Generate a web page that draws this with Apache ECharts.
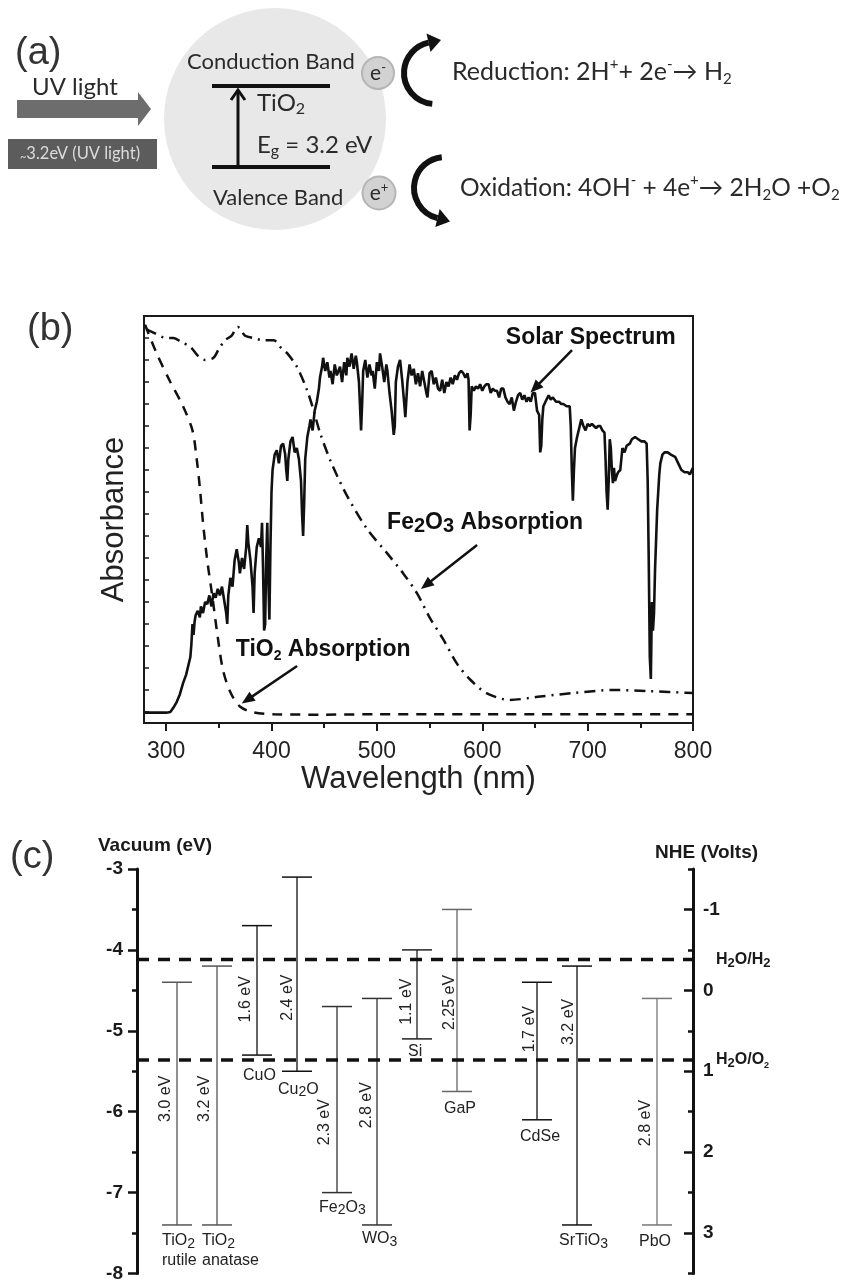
<!DOCTYPE html>
<html><head><meta charset="utf-8">
<script src="https://cdn.jsdelivr.net/npm/echarts@6/dist/echarts.min.js"></script>
<style>html,body{margin:0;padding:0;background:#fff}#c{width:843px;height:1283px}</style>
</head><body><div id="c"></div>
<script>
// ================= DATA =================
// Panel (b): wavelength (nm) vs absorbance (a.u.)
const solarSpectrum = [
[280,0.47],[290,0.47],[300,0.47],[304,0.5],[307,0.7],[310,0.95],[313,1.3],[316,1.8],[319,2.2],[321,2.6],[323,3.0],[324,3.6],[325,4.5],[326,4.0],[327,4.6],[328,4.9],[330,5.1],[332,4.8],[333,5.3],[335,5.0],[337,5.5],[339,5.4],[341,5.8],[343,5.3],[345,5.9],[347,5.7],[349,6.1],[351,5.8],[353,6.2],[355,5.6],[357,5.0],[358,4.5],[359,5.8],[361,6.6],[363,6.2],[365,7.4],[367,7.9],[369,7.3],[370,6.8],[372,7.5],[374,7.0],[376,8.0],[377,9.0],[378,8.2],[380,7.4],[382,6.2],[383,5.0],[384,6.8],[386,8.0],[388,8.4],[390,8.0],[391,9.1],[392,7.0],[393,4.2],[394,4.5],[395,7.5],[396,9.1],[397,6.5],[398,4.7],[399,8.0],[400,10.5],[401,11.5],[403,12.2],[405,12.4],[407,11.8],[409,12.6],[411,12.7],[413,12.2],[414,11.5],[415,11.0],[416,12.0],[418,12.8],[420,13.0],[422,12.3],[424,12.5],[426,12.0],[428,11.0],[429,9.5],[430,8.5],[431,10.0],[432,12.0],[434,13.0],[436,13.5],[437,13.8],[439,13.3],[441,14.2],[443,14.6],[445,15.2],[446,15.7],[448,16.2],[449,16.6],[451,16.0],[453,16.4],[455,15.7],[456,16.0],[458,15.4],[460,16.3],[462,15.8],[465,16.2],[467,15.5],[469,16.4],[471,15.8],[472,16.6],[474,16.2],[476,16.8],[478,16.1],[480,16.7],[481,16.4],[483,15.5],[485,13.3],[486,14.5],[487,16.0],[489,16.5],[491,15.7],[493,16.3],[495,15.8],[496,16.0],[498,15.2],[500,16.4],[502,16.0],[503,16.8],[505,16.2],[507,15.5],[509,16.3],[510,16.0],[512,15.0],[514,14.2],[516,13.1],[517,13.5],[518,15.5],[520,16.2],[522,16.5],[524,15.6],[526,14.5],[527,13.9],[529,15.5],[531,16.3],[533,15.8],[535,16.1],[537,15.4],[539,15.9],[541,15.3],[543,16.0],[545,15.5],[547,15.0],[548,14.8],[550,15.9],[552,16.0],[554,15.4],[556,15.7],[558,15.2],[560,15.1],[562,15.6],[564,15.0],[566,15.5],[568,15.3],[570,15.7],[572,15.4],[574,15.8],[576,15.6],[578,15.9],[580,16.0],[582,15.9],[584,15.7],[586,15.9],[587,15.6],[588,13.3],[589,14.0],[590,15.3],[592,15.1],[594,15.3],[596,15.2],[598,15.4],[600,15.1],[602,15.3],[604,15.4],[606,15.4],[608,15.0],[610,15.2],[612,15.1],[614,15.1],[616,14.8],[618,15.2],[620,15.2],[622,14.8],[624,14.6],[626,14.5],[628,14.8],[630,14.2],[632,14.6],[634,14.9],[636,15.0],[638,14.7],[640,14.9],[642,14.6],[644,14.8],[646,14.6],[648,15.0],[650,15.0],[651,14.6],[652,14.2],[654,14.0],[655,12.3],[656,12.6],[657,13.8],[658,14.4],[660,14.6],[663,14.9],[665,14.7],[667,14.8],[670,14.6],[673,14.6],[675,14.5],[677,14.5],[680,14.4],[683,14.4],[684,13.5],[685,11.5],[686,10.1],[687,11.5],[688,12.5],[690,13.0],[692,13.4],[694,13.8],[696,13.5],[698,13.3],[700,13.6],[702,13.5],[704,13.6],[706,13.5],[708,13.4],[710,13.5],[712,13.5],[714,13.3],[716,13.2],[717,12.0],[718,10.5],[719,9.7],[720,11.0],[721,12.9],[722,12.5],[723,11.5],[724,10.9],[725,11.6],[726,11.0],[728,11.3],[729,11.4],[731,11.5],[732,12.0],[733,12.5],[735,12.3],[737,12.6],[740,12.7],[742,12.9],[745,13.0],[748,12.9],[751,12.8],[754,12.8],[756,12.7],[757,11.0],[758,7.4],[759,3.0],[760,2.0],[761,5.5],[762,4.2],[763,5.0],[764,7.0],[766,9.7],[768,11.3],[769,11.8],[771,12.2],[773,12.3],[776,12.3],[779,12.2],[783,12.1],[786,11.8],[789,11.5],[792,11.4],[795,11.4],[797,11.3],[800,11.6]
];
const tio2Absorption = [
[280,18.1],[291,16.8],[304,15.5],[316,14.4],[325,13.3],[329,12.0],[332,10.7],[335,9.1],[339,7.4],[344,5.7],[349,3.9],[354,2.4],[361,1.4],[370,0.75],[383,0.48],[402,0.4],[450,0.38],[500,0.4],[550,0.4],[600,0.4],[650,0.4],[700,0.4],[750,0.4],[800,0.4]
];
const fe2o3Absorption = [
[281,17.9],[290,17.7],[300,17.5],[307,17.5],[315,17.3],[323,17.1],[330,16.7],[337,16.5],[345,16.6],[350,17.0],[356,17.4],[362,17.6],[368,18.0],[375,17.6],[383,17.5],[392,17.4],[402,17.4],[410,17.0],[415,16.8],[424,16.2],[434,15.1],[440,14.2],[446,13.2],[457,11.8],[472,10.3],[491,8.8],[510,7.7],[525,6.8],[538,5.9],[550,4.8],[563,3.8],[576,2.7],[588,2.0],[604,1.36],[626,1.05],[655,1.2],[686,1.36],[724,1.5],[759,1.45],[800,1.36]
];
const wavelengthTicks = [300,400,500,600,700,800];
const wavelengthMinorTicks = [350,450,550,650,750];
const absorbanceTicks = [0.5,1.5,2.5,3.5,4.5,5.5,6.5,7.5,8.5,9.5,10.5,11.5,12.5,13.5,14.5,15.5,16.5,17.5];
const annotationTexts = ['Solar Spectrum','Fe{s3|2}O{s3|3} Absorption','TiO{s2|2} Absorption'];
const annotationAt = [[703,17.5],[602.7,9.09],[449,3.32]];
const annotationArrows = [[[685.2,16.95],[650.1,15.23]],[[595.1,8.09],[546.7,6.27]],[[424.3,2.59],[376.9,1.05]]];

// Panel (c): band edges vs vacuum (eV)
const materials = ['TiO{s|2}\nrutile','TiO{s|2}\nanatase','CuO','Cu{s|2}O','Fe{s|2}O{s|3}','WO{s|3}','Si','GaP','CdSe','SrTiO{s|3}','PbO'];
const slotIndex = [0,1,2,3,4,5,6,7,9,10,12];
const conductionBand = [-4.4,-4.2,-3.7,-3.1,-4.7,-4.6,-4.0,-3.5,-4.4,-4.2,-4.6];
const valenceBand = [-7.4,-7.4,-5.3,-5.5,-7.0,-7.4,-5.1,-5.75,-6.1,-7.4,-7.4];
const bandGapLabels = ['3.0 eV','3.2 eV','1.6 eV','2.4 eV','2.3 eV','2.8 eV','1.1 eV','2.25 eV','1.7 eV','3.2 eV','2.8 eV'];
const redoxLevels = [-4.12,-5.36];
const redoxNames = ['H{s|2}O/H{s|2}','H{s|2}O/O{t|2}'];
const nheTicks = [-1,0,1,2,3];

// ================= LAYOUT / STYLE (not data) =================
const gapLabelAt = [-5.84,-5.84,-4.61,-4.59,-6.13,-5.92,-4.64,-4.65,-4.98,-4.89,-6.14];
const gapLabelDx = [-11,-12,-11,-9,-12,-10,-10,-7,-7,-8,-11];
const nameDx = [0,0,1,-4,-3,0,6,2,-2,-3,-3];
const nameDy = [6,6,11,8,5,4,3,7,7,6,7];
const barColor = ['#555','#555','#111','#111','#333','#333','#222','#666','#111','#111','#777'];

const FF = '"Liberation Sans", Arial, sans-serif';
const CF = 'Lato, "Open Sans", sans-serif';
const chart = echarts.init(document.getElementById('c'), null, {renderer:'canvas'});

function txt(x, y, text, o) {
  o = o || {};
  return {type:'text', x:x, y:y, silent:true, z:10,
    style:{text:text, fill:o.fill||'#2a2a2a', fontFamily:o.ff||CF, fontSize:o.fs||23,
      fontWeight:o.fw||'normal', align:o.align||'left', textAlign:o.align||'left',
      verticalAlign:'middle', textVerticalAlign:'middle', lineHeight:o.lh||(o.fs||23)+4,
      rich:o.rich||{}}};
}
const sub = (fs, lh) => ({fontSize:fs, lineHeight:lh, verticalAlign:'bottom', fontFamily:CF, fill:'#2a2a2a'});
const sup = (fs, lh) => ({fontSize:fs, lineHeight:lh, verticalAlign:'top', fontFamily:CF, fill:'#2a2a2a'});

const graphics = [
  // (a) schematic
  {type:'circle', shape:{cx:275, cy:119, r:111}, style:{fill:'#e8e8e8'}, silent:true, z:1},
  {type:'polygon', shape:{points:[[17,100],[138,100],[138,92],[151,109],[138,126],[138,118],[17,118]]}, style:{fill:'#6d6d6d'}, silent:true},
  {type:'rect', shape:{x:8, y:139, width:149, height:30}, style:{fill:'#5c5c5c'}, silent:true},
  txt(80, 154, '{t|~}3.2eV (UV light)', {fs:16.5, fill:'#dcdcdc', align:'center', lh:18, rich:{t:{fontSize:11, lineHeight:10, verticalAlign:'bottom', fill:'#dcdcdc', fontFamily:CF}}}),
  txt(15, 54, '(a)', {ff:FF, fs:38, fill:'#333'}),
  txt(32, 87, 'UV light', {fs:24}),
  txt(187, 62, 'Conduction Band', {fs:22}),
  txt(213, 198, 'Valence Band', {fs:22}),
  {type:'line', shape:{x1:212, y1:86, x2:330, y2:86}, style:{stroke:'#111', lineWidth:4}, silent:true, z:5},
  {type:'line', shape:{x1:212, y1:167, x2:330, y2:167}, style:{stroke:'#111', lineWidth:4}, silent:true, z:5},
  {type:'line', shape:{x1:238, y1:167, x2:238, y2:91}, style:{stroke:'#111', lineWidth:3}, silent:true, z:5},
  {type:'polyline', shape:{points:[[231,100],[238,90],[245,100]]}, style:{stroke:'#111', lineWidth:3, fill:null}, silent:true, z:5},
  txt(257, 103, 'TiO{s|2}', {fs:24, lh:28, rich:{s:sub(16,14)}}),
  txt(257, 145, 'E{s|g} = 3.2 eV', {fs:24, lh:28, rich:{s:sub(16,14)}}),
  {type:'circle', shape:{cx:378, cy:73, r:16}, style:{fill:'#d2d2d2', stroke:'#b5b5b5', lineWidth:2}, silent:true, z:5},
  {type:'circle', shape:{cx:379, cy:193, r:16.5}, style:{fill:'#d2d2d2', stroke:'#b5b5b5', lineWidth:2}, silent:true, z:5},
  txt(378, 73, 'e{p|-}', {fs:21, align:'center', lh:24, rich:{p:sup(13,12)}}),
  txt(379, 193, 'e{p|+}', {fs:21, align:'center', lh:24, rich:{p:sup(13,12)}}),
  {type:'arc', shape:{cx:435, cy:73, r:31, startAngle:1.658, endAngle:4.503, clockwise:true}, style:{stroke:'#111', lineWidth:6, fill:null}, silent:true},
  {type:'polygon', shape:{points:[[426.5,33.5],[441,40],[430.5,52]]}, style:{fill:'#111'}, silent:true},
  {type:'arc', shape:{cx:445, cy:188, r:31, startAngle:1.815, endAngle:4.608, clockwise:true}, style:{stroke:'#111', lineWidth:6, fill:null}, silent:true},
  {type:'polygon', shape:{points:[[435.3,227],[450,221.5],[439.7,209]]}, style:{fill:'#111'}, silent:true},
  txt(452, 72, 'Reduction: 2H{p|+}+ 2e{p|-}→ H{s|2}', {fs:25, lh:30, rich:{p:sup(15,12), s:sub(15,12)}}),
  txt(460, 188, 'Oxidation: 4OH{p|-} + 4e{p|+}→ 2H{s|2}O +O{s|2}', {fs:24.5, lh:30, rich:{p:sup(15,12), s:sub(15,12)}}),
  // panel labels & axis titles
  txt(27, 330, '(b)', {ff:FF, fs:38, fill:'#333'}),
  txt(10, 858, '(c)', {ff:FF, fs:38, fill:'#333'}),
  txt(98, 846, 'Vacuum (eV)', {ff:FF, fs:19, fw:'bold', fill:'#1a1a1a'}),
  txt(655, 853, 'NHE (Volts)', {ff:FF, fs:19, fw:'bold', fill:'#1a1a1a'})
];

function renderBand(params, api) {
  const i = params.dataIndex;
  const x = api.value(0), top = api.value(1), bot = api.value(2);
  const pt = api.coord([x, top]), pb = api.coord([x, bot]);
  const hw = 15, c = barColor[i];
  const gy = api.coord([x, gapLabelAt[i]])[1];
  const subS = {fontSize:14, lineHeight:12, verticalAlign:'bottom', fill:'#222', fontFamily:FF};
  return {type:'group', children:[
    {type:'line', shape:{x1:pt[0], y1:pt[1], x2:pb[0], y2:pb[1]}, style:{stroke:c, lineWidth:1.3}},
    {type:'line', shape:{x1:pt[0]-hw, y1:pt[1], x2:pt[0]+hw, y2:pt[1]}, style:{stroke:c, lineWidth:1.5}},
    {type:'line', shape:{x1:pb[0]-hw, y1:pb[1], x2:pb[0]+hw, y2:pb[1]}, style:{stroke:c, lineWidth:1.5}},
    {type:'text', x:pt[0]+gapLabelDx[i], y:gy, rotation:Math.PI/2,
      style:{text:bandGapLabels[i], fill:'#222', fontFamily:FF, fontSize:16, align:'center', textAlign:'center', verticalAlign:'middle', textVerticalAlign:'middle'}},
    {type:'text', x:pb[0]-hw+nameDx[i], y:pb[1]+nameDy[i],
      style:{text:materials[i], fill:'#222', fontFamily:FF, fontSize:16, lineHeight:20, align:'left', textAlign:'left', verticalAlign:'top', textVerticalAlign:'top', rich:{s:subS}}}
  ]};
}

const option = {
  animation:false,
  textStyle:{fontFamily:FF},
  graphic:graphics,
  grid:[
    {left:144, top:316, width:549, height:407, show:true, borderColor:'#1a1a1a', borderWidth:2, backgroundColor:'transparent'},
    {left:137, top:869, width:556, height:412.5}
  ],
  xAxis:[
    {gridIndex:0, type:'value', min:279, max:800, position:'bottom',
     axisLine:{show:true, onZero:false, lineStyle:{color:'#1a1a1a', width:2}},
     axisTick:{show:true, length:8, customValues:wavelengthTicks, lineStyle:{color:'#1a1a1a', width:2}},
     axisLabel:{customValues:wavelengthTicks, fontSize:23, color:'#222', margin:17, fontFamily:FF},
     splitLine:{show:false},
     name:'Wavelength (nm)', nameLocation:'middle', nameGap:39, nameTextStyle:{fontSize:31, color:'#222', fontFamily:FF}},
    {gridIndex:0, type:'value', min:279, max:800, position:'bottom',
     axisLine:{show:false, onZero:false}, axisTick:{show:true, length:5, customValues:wavelengthMinorTicks, lineStyle:{color:'#1a1a1a', width:2}},
     axisLabel:{show:false}, splitLine:{show:false}},
    {gridIndex:1, type:'value', min:-1, max:12.9, show:false}
  ],
  yAxis:[
    {gridIndex:0, type:'value', min:0, max:18.5, position:'left',
     axisLine:{show:true, onZero:false, lineStyle:{color:'#1a1a1a', width:2}},
     axisTick:{show:true, inside:true, length:5, customValues:absorbanceTicks, lineStyle:{color:'#1a1a1a', width:1.5}},
     axisLabel:{show:false}, splitLine:{show:false},
     name:'Absorbance', nameLocation:'middle', nameGap:14, nameTextStyle:{fontSize:31, color:'#222', fontFamily:FF}},
    {gridIndex:1, type:'value', min:-8, max:-3, interval:1, position:'left',
     axisLine:{show:true, onZero:false, lineStyle:{color:'#111', width:3}},
     axisTick:{show:true, length:9, lineStyle:{color:'#111', width:2.5}},
     minorTick:{show:true, splitNumber:2, length:5, lineStyle:{color:'#111', width:2.5}},
     axisLabel:{fontSize:19, fontWeight:'bold', color:'#1a1a1a', margin:14, fontFamily:FF},
     splitLine:{show:false}, minorSplitLine:{show:false}},
    {gridIndex:1, type:'value', min:-1.5, max:3.5, interval:0.5, inverse:true, position:'right',
     axisLine:{show:true, onZero:false, lineStyle:{color:'#111', width:3}},
     axisTick:{show:true, inside:true, length:5, lineStyle:{color:'#111', width:2.5}},
     axisLabel:{show:false}, splitLine:{show:false}},
    {gridIndex:1, type:'value', min:-1.5, max:3.5, inverse:true, position:'right',
     axisLine:{show:false, onZero:false},
     axisTick:{show:true, inside:true, length:9, customValues:nheTicks, lineStyle:{color:'#111', width:2.5}},
     axisLabel:{customValues:nheTicks, fontSize:19, fontWeight:'bold', color:'#1a1a1a', margin:10, fontFamily:FF},
     splitLine:{show:false}}
  ],
  series:[
    {type:'line', name:'Fe2O3', xAxisIndex:0, yAxisIndex:0, data:fe2o3Absorption, showSymbol:false, smooth:0.3,
     lineStyle:{color:'#111', width:2.5, type:[11,6,2,6]}, z:2, silent:true},
    {type:'line', name:'TiO2', xAxisIndex:0, yAxisIndex:0, data:tio2Absorption, showSymbol:false, smooth:0.3,
     lineStyle:{color:'#111', width:2.5, type:[10,8]}, z:2, silent:true,
     markLine:{silent:true, symbol:['none','triangle'], symbolSize:[11,13],
       lineStyle:{color:'#111', width:2.5, type:'solid'}, label:{show:false},
       data:annotationArrows.map(a => [{coord:a[0]},{coord:a[1]}])},
     markPoint:{silent:true, symbol:'rect', symbolSize:1, itemStyle:{color:'rgba(0,0,0,0)'},
       data:annotationTexts.map((t,i) => ({coord:annotationAt[i], value:0,
         label:{show:true, position:'inside', formatter:t, color:'#111', fontFamily:FF, fontWeight:'bold', fontSize:23, lineHeight:26,
           rich:{s3:{fontSize:20, lineHeight:8, verticalAlign:'bottom', fontWeight:'bold', color:'#111', fontFamily:FF},
                 s2:{fontSize:14, lineHeight:8, verticalAlign:'bottom', fontWeight:'bold', color:'#111', fontFamily:FF}}}}))}},
    {type:'line', name:'Solar', xAxisIndex:0, yAxisIndex:0, data:solarSpectrum, showSymbol:false,
     lineStyle:{color:'#111', width:2.6}, z:3, silent:true},
    {type:'custom', name:'bands', xAxisIndex:2, yAxisIndex:1, silent:true,
     data:slotIndex.map((s,i) => [s, conductionBand[i], valenceBand[i]]), renderItem:renderBand, clip:false}
  ].concat(redoxLevels.map((lv,i) => ({
    type:'line', xAxisIndex:2, yAxisIndex:1, data:[[-1,lv],[13.275,lv]], showSymbol:false, clip:false, silent:true,
    lineStyle:{color:'#111', width:3.5, type:[12,9]},
    endLabel:{show:true, distance:20, formatter:redoxNames[i], color:'#1a1a1a', fontWeight:'bold', fontSize:16, fontFamily:FF, lineHeight:20,
      rich:{s:{fontSize:13, lineHeight:10, verticalAlign:'bottom', fontWeight:'bold', color:'#1a1a1a', fontFamily:FF},
            t:{fontSize:9, lineHeight:8, verticalAlign:'bottom', fontWeight:'bold', color:'#1a1a1a', fontFamily:FF}}}
  })))
};
chart.setOption(option);
</script>
</body></html>
